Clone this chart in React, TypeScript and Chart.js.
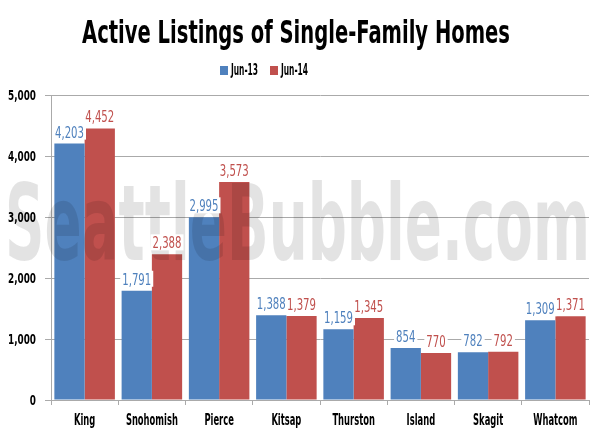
import React, { useEffect, useRef } from "react";
import { Chart, registerables } from "chart.js";

Chart.register(...registerables);

const categories = ["King", "Snohomish", "Pierce", "Kitsap", "Thurston", "Island", "Skagit", "Whatcom"];
const jun13 = [4203, 1791, 2995, 1388, 1159, 854, 782, 1309];
const jun14 = [4452, 2388, 3573, 1379, 1345, 770, 792, 1371];
const seriesNames = ["Jun-13", "Jun-14"];
const yTicks = [0, 1000, 2000, 3000, 4000, 5000];
const titleText = "Active Listings of Single-Family Homes";
const watermarkText = "SeattleBubble.com";

const BLUE = "#4F81BD";
const RED = "#C0504D";
const FONT = "'DejaVu Sans Condensed', 'DejaVu Sans', sans-serif";

const fmt = (v: number) => v.toLocaleString("en-US");

function drawText(ctx: any, s: string, x: number, y: number, font: string, color: string, sx: number, align: string) {
  ctx.save();
  ctx.font = font;
  ctx.fillStyle = color;
  ctx.textBaseline = "alphabetic";
  ctx.textAlign = "left";
  const w = ctx.measureText(s).width * sx;
  const x0 = align === "center" ? x - w / 2 : align === "right" ? x - w : x;
  ctx.translate(x0, y);
  ctx.scale(sx, 1);
  ctx.fillText(s, 0, 0);
  ctx.restore();
  return w;
}

function scaleFor(ctx: any, font: string, sample: string, target: number) {
  ctx.save();
  ctx.font = font;
  const w = ctx.measureText(sample).width;
  ctx.restore();
  return target / w;
}

const watermark = {
  id: "watermark",
  afterDatasetsDraw(chart: any) {
    const ctx = chart.ctx;
    const f = `bold 106px ${FONT}`;
    const sx = scaleFor(ctx, f, watermarkText, 585);
    drawText(ctx, watermarkText, 5, 260, f, "rgba(0,0,0,0.11)", sx, "left");
  },
};

const decorations = {
  id: "decorations",
  afterDraw(chart: any) {
    const ctx = chart.ctx;
    // title
    const tf = `bold 32px ${FONT}`;
    drawText(ctx, titleText, 296, 43, tf, "#000", scaleFor(ctx, tf, titleText, 428), "center");

    // legend
    const lf = `bold 15px ${FONT}`;
    const lsx = scaleFor(ctx, lf, "Jun-13", 27);
    ctx.fillStyle = BLUE;
    ctx.fillRect(220, 66, 8, 9);
    drawText(ctx, seriesNames[0], 231, 75, lf, "#000", lsx, "left");
    ctx.fillStyle = RED;
    ctx.fillRect(270, 66, 8, 9);
    drawText(ctx, seriesNames[1], 281, 75, lf, "#000", lsx, "left");

    // y tick labels
    const yf = `bold 14px ${FONT}`;
    const ysx = scaleFor(ctx, yf, "5,000", 28);
    const ys = chart.scales.y;
    yTicks.forEach((v) => {
      drawText(ctx, fmt(v), 36, ys.getPixelForValue(v) + 5, yf, "#000", ysx, "right");
    });

    // x tick labels
    const xf = `bold 15px ${FONT}`;
    const xsx = scaleFor(ctx, xf, "Snohomish", 52);
    const xs = chart.scales.x;
    categories.forEach((c, i) => {
      drawText(ctx, c, xs.getPixelForValue(i), 425, xf, "#000", xsx, "center");
    });

    // value labels
    const vf = `15px ${FONT}`;
    const vsx = scaleFor(ctx, vf, "4,203", 29);
    chart.data.datasets.forEach((ds: any, di: number) => {
      const meta = chart.getDatasetMeta(di);
      meta.data.forEach((bar: any, i: number) => {
        const t = fmt(ds.data[i]);
        ctx.save();
        ctx.font = vf;
        const w = ctx.measureText(t).width * vsx;
        ctx.restore();
        const y = bar.y - 6;
        ctx.fillStyle = "#ffffff";
        ctx.fillRect(bar.x - w / 2 - 2, y - 14, w + 4, 16);
        drawText(ctx, t, bar.x, y, vf, ds.backgroundColor, vsx, "center");
      });
    });
  },
};

export default function App() {
  const ref = useRef<HTMLCanvasElement>(null);
  useEffect(() => {
    if (!ref.current) return;
    const chart = new Chart(ref.current, {
      type: "bar",
      data: {
        labels: categories,
        datasets: [
          { label: seriesNames[0], data: jun13, backgroundColor: BLUE, borderWidth: 0 },
          { label: seriesNames[1], data: jun14, backgroundColor: RED, borderWidth: 0 },
        ],
      },
      options: {
        animation: false,
        responsive: false,
        maintainAspectRatio: false,
        layout: { padding: { left: 45, right: 11, top: 95, bottom: 31 } },
        datasets: { bar: { categoryPercentage: 0.9, barPercentage: 1.0 } },
        plugins: {
          title: { display: false },
          legend: { display: false },
          tooltip: { enabled: false },
        },
        scales: {
          x: {
            grid: { display: true, drawOnChartArea: false, color: "#aaa", tickLength: 5, offset: true },
            border: { color: "#aaa" },
            ticks: { display: false },
          },
          y: {
            min: 0,
            max: 5000,
            afterBuildTicks: (axis: any) => {
              axis.ticks = yTicks.map((v) => ({ value: v }));
            },
            grid: { color: "#aaa", drawTicks: true, tickLength: 6 },
            border: { color: "#aaa" },
            ticks: { display: false },
          },
        },
      },
      plugins: [watermark, decorations],
    });
    return () => chart.destroy();
  }, []);
  return (
    <div style={{ position: "fixed", left: 0, top: 0, width: 600, height: 436, background: "#fff" }}>
      <canvas ref={ref} width={600} height={436} />
    </div>
  );
}
